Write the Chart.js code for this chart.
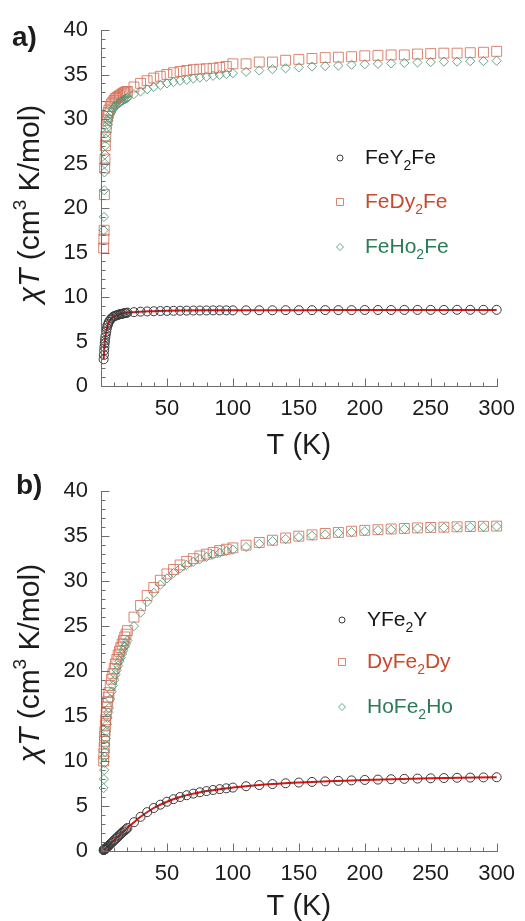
<!DOCTYPE html>
<html>
<head>
<meta charset="utf-8">
<script src="https://cdn.jsdelivr.net/npm/chart.js@4.4.1/dist/chart.umd.min.js"></script>
<style>
  html, body { margin: 0; padding: 0; background: #fff; }
  #wrap { position: relative; width: 525px; height: 921px; overflow: hidden; }
  canvas { position: absolute; left: 0; }
  #chartA { top: 0; }
  #chartB { top: 465px; }
</style>
</head>
<body>
<div id="wrap">
  <canvas id="chartA" width="525" height="465"></canvas>
  <canvas id="chartB" width="525" height="456"></canvas>
</div>
<script>
// Temperatures (K) of the measured points
const temps = [2.0, 2.2, 2.4, 2.6, 2.8, 3.0, 3.3, 3.6, 4.0, 4.5, 5.0, 5.5, 6.0, 7, 8, 9, 10, 11, 12, 13, 14, 15, 16, 17, 18, 19, 20,
  25, 30, 35, 40, 45, 50, 55, 60, 65, 70, 75, 80, 85, 90, 95, 100,
  110, 120, 130, 140, 150, 160, 170, 180, 190, 200, 210, 220, 230, 240, 250, 260, 270, 280, 290, 300];

// Temperatures of the fitted curves
const fitTemps = [2, 2.5, 3, 3.5, 4, 5, 6, 7, 8, 10, 12, 15, 20, 25, 30, 40, 50, 60, 80, 100, 120, 150, 200, 250, 300];

// a) chi*T of the FeLn2Fe complexes
const feY2Fe = [3.0, 3.5, 4.0, 4.4, 4.8, 5.1, 5.5, 5.8, 6.1, 6.5, 6.8, 7.0, 7.2, 7.45, 7.6, 7.75, 7.85, 7.9, 7.95, 8.0, 8.05, 8.1, 8.1, 8.15, 8.2, 8.2, 8.25,
  8.3, 8.35, 8.38, 8.4, 8.42, 8.44, 8.45, 8.46, 8.47, 8.48, 8.48, 8.49, 8.5, 8.5, 8.5, 8.5,
  8.5, 8.51, 8.51, 8.52, 8.52, 8.52, 8.53, 8.53, 8.53, 8.54, 8.54, 8.54, 8.55, 8.55, 8.55, 8.55, 8.56, 8.56, 8.56, 8.56];
const feDy2Fe = [15.5, 16.5, 17.5, 21.5, 24.5, 25.5, 27.0, 28.0, 29.0, 29.8, 30.3, 30.7, 31.0, 31.4, 31.7, 31.9, 32.1, 32.3, 32.4, 32.5, 32.6, 32.7, 32.8, 32.9, 33.0, 33.05, 33.1,
  33.6, 34.0, 34.3, 34.6, 34.8, 35.0, 35.2, 35.35, 35.45, 35.55, 35.6, 35.65, 35.7, 35.8, 35.9, 36.2,
  36.2, 36.4, 36.4, 36.6, 36.7, 36.8, 36.9, 36.95, 37.0, 37.1, 37.15, 37.2, 37.2, 37.3, 37.35, 37.4, 37.4, 37.45, 37.5, 37.6];
const feHo2Fe = [17.5, 19.0, 22.0, 24.0, 25.0, 26.0, 27.0, 27.8, 28.4, 29.0, 29.4, 29.8, 30.1, 30.5, 30.8, 31.1, 31.3, 31.5, 31.6, 31.75, 31.85, 31.95, 32.05, 32.15, 32.2, 32.3, 32.35,
  32.8, 33.1, 33.35, 33.6, 33.8, 34.0, 34.15, 34.3, 34.4, 34.55, 34.65, 34.75, 34.85, 34.95, 35.05, 35.15,
  35.3, 35.45, 35.6, 35.7, 35.8, 35.9, 35.95, 36.0, 36.1, 36.15, 36.2, 36.25, 36.3, 36.35, 36.4, 36.45, 36.45, 36.5, 36.5, 36.55];
const fitFeY2Fe = [3.0, 4.2, 5.1, 5.7, 6.1, 6.8, 7.2, 7.45, 7.6, 7.85, 7.95, 8.1, 8.25, 8.3, 8.35, 8.4, 8.45, 8.48, 8.5, 8.5, 8.52, 8.52, 8.53, 8.54, 8.55];

// b) chi*T of the LnFe2Ln complexes
const yFe2Y = [0.10, 0.12, 0.14, 0.17, 0.19, 0.22, 0.26, 0.30, 0.35, 0.42, 0.49, 0.56, 0.63, 0.77, 0.91, 1.05, 1.19, 1.33, 1.47, 1.61, 1.75, 1.89, 2.03, 2.16, 2.30, 2.43, 2.56,
  3.20, 3.80, 4.32, 4.78, 5.15, 5.48, 5.76, 6.00, 6.20, 6.38, 6.53, 6.66, 6.78, 6.88, 6.97, 7.05,
  7.20, 7.33, 7.44, 7.53, 7.61, 7.68, 7.74, 7.80, 7.85, 7.90, 7.94, 7.98, 8.02, 8.05, 8.08, 8.11, 8.14, 8.16, 8.18, 8.20];
const dyFe2Dy = [10.0, 10.8, 11.5, 12.2, 12.8, 13.3, 14.0, 14.6, 15.3, 16.0, 16.6, 17.1, 17.6, 18.4, 19.1, 19.7, 20.3, 20.8, 21.3, 21.8, 22.2, 22.6, 23.0, 23.4, 23.8, 24.1, 24.5,
  26.0, 27.3, 28.4, 29.3, 30.1, 30.8, 31.3, 31.8, 32.2, 32.5, 32.8, 33.0, 33.2, 33.4, 33.55, 33.7,
  34.0, 34.3, 34.55, 34.8, 35.0, 35.15, 35.3, 35.42, 35.55, 35.65, 35.72, 35.8, 35.86, 35.92, 35.97, 36.0, 36.04, 36.07, 36.1, 36.12];
const hoFe2Ho = [7.0, 8.0, 9.0, 9.8, 10.5, 11.0, 11.8, 12.5, 13.3, 14.1, 14.8, 15.4, 15.9, 16.9, 17.7, 18.4, 19.0, 19.6, 20.1, 20.6, 21.1, 21.5, 21.9, 22.3, 22.7, 23.0, 23.4,
  25.0, 26.5, 27.7, 28.7, 29.6, 30.3, 30.9, 31.4, 31.8, 32.15, 32.45, 32.7, 32.95, 33.15, 33.35, 33.5,
  33.8, 34.15, 34.45, 34.7, 34.9, 35.05, 35.2, 35.35, 35.45, 35.55, 35.65, 35.72, 35.8, 35.86, 35.91, 35.95, 35.99, 36.02, 36.05, 36.08];
const fitYFe2Y = [0.10, 0.16, 0.22, 0.29, 0.35, 0.49, 0.63, 0.77, 0.91, 1.19, 1.47, 1.89, 2.56, 3.20, 3.80, 4.78, 5.48, 6.00, 6.66, 7.05, 7.33, 7.61, 7.90, 8.08, 8.20];

// Series names (legend order) and axis ticks
const namesA = ['FeY2Fe', 'FeDy2Fe', 'FeHo2Fe'];
const namesB = ['YFe2Y', 'DyFe2Dy', 'HoFe2Ho'];
const xMajor = [0, 50, 100, 150, 200, 250, 300];
const yMajor = [0, 5, 10, 15, 20, 25, 30, 35, 40];

const FAM = '"Liberation Sans", Arial, Helvetica, sans-serif';
const INK = '#1c1c1c';
const STYLE = {
  circle: { pointStyle: 'circle', radius: 4.5, color: '#3a3a3a', text: '#161616' },
  square: { pointStyle: 'rect', radius: 7, color: 'rgba(214,112,88,0.85)', text: '#c8492d' },
  diamond: { pointStyle: 'rectRot', radius: 4.6, color: 'rgba(78,150,118,0.85)', text: '#2c7a58' }
};

const pts = (xs, ys) => xs.map((x, i) => ({ x, y: ys[i] }));

function markerSet(label, ys, kind) {
  const s = STYLE[kind];
  return {
    label, data: pts(temps, ys), showLine: false, clip: false,
    pointStyle: s.pointStyle, pointRadius: s.radius, pointBorderWidth: 1,
    pointBorderColor: s.color, pointBackgroundColor: 'rgba(0,0,0,0)',
    legendKind: kind
  };
}
function fitSet(ys) {
  return {
    label: 'fit', data: pts(fitTemps, ys), showLine: true, clip: false,
    borderColor: '#e21212', borderWidth: 2, pointRadius: 0,
    cubicInterpolationMode: 'monotone'
  };
}

// Inward ticks, y-axis title with italics/superscript, panel tag and legend
const panelDecor = {
  id: 'panelDecor',
  afterDraw(chart, args, o) {
    const { ctx, chartArea: ca, scales: { x, y } } = chart;
    ctx.save();
    ctx.strokeStyle = '#6e6e6e';
    ctx.lineWidth = 1;
    ctx.beginPath();
    const lx = Math.round(ca.left) + 0.5, by = Math.round(ca.bottom) + 0.5;
    ctx.moveTo(lx, Math.round(ca.top));
    ctx.lineTo(lx, by);
    ctx.lineTo(Math.round(ca.right) + 1, by);
    for (let v = 0; v <= 40; v += 1) {
      const py = Math.round(y.getPixelForValue(v)) + 0.5;
      ctx.moveTo(lx, py); ctx.lineTo(lx + (v % 5 === 0 ? 8 : 4), py);
    }
    for (let v = 0; v <= 300; v += 10) {
      const px = Math.round(x.getPixelForValue(v)) + 0.5;
      ctx.moveTo(px, by); ctx.lineTo(px, by - (v % 50 === 0 ? 8 : 4));
    }
    ctx.stroke();

    // y-axis title
    ctx.fillStyle = INK;
    ctx.textBaseline = 'middle';
    ctx.textAlign = 'left';
    const parts = [
      { t: '\u03C7T', f: 'italic 30px ' + FAM, dy: 0 },
      { t: ' (cm', f: '30px ' + FAM, dy: 0 },
      { t: '3', f: '19px ' + FAM, dy: -10 },
      { t: ' K/mol)', f: '30px ' + FAM, dy: 0 }
    ];
    let w = 0;
    parts.forEach(p => { ctx.font = p.f; p.w = ctx.measureText(p.t).width; w += p.w; });
    ctx.save();
    ctx.translate(o.titleX, (ca.top + ca.bottom) / 2 + o.titleShift);
    ctx.rotate(-Math.PI / 2);
    let px = -w / 2;
    parts.forEach(p => { ctx.font = p.f; ctx.fillText(p.t, px, p.dy); px += p.w; });
    ctx.restore();

    // panel tag
    ctx.font = 'bold 28px ' + FAM;
    ctx.fillText(o.tag, o.tagX, o.tagY);

    // legend, in the order given by o.order
    o.order.forEach((name, i) => {
      const d = chart.data.datasets.find(ds => ds.label === name);
      const s = STYLE[d.legendKind];
      const cy = o.legendY[i];
      const mx = o.legendX;
      ctx.strokeStyle = s.color;
      ctx.lineWidth = 1;
      ctx.beginPath();
      if (d.legendKind === 'circle') {
        ctx.arc(mx, cy, 3, 0, Math.PI * 2);
      } else if (d.legendKind === 'square') {
        ctx.rect(mx - 3.5, cy - 3.5, 7, 7);
      } else {
        ctx.moveTo(mx - 3.5, cy); ctx.lineTo(mx, cy - 3.5); ctx.lineTo(mx + 3.5, cy); ctx.lineTo(mx, cy + 3.5); ctx.closePath();
      }
      ctx.stroke();
      ctx.fillStyle = s.text;
      ctx.textBaseline = 'middle';
      let tx = o.legendX + 25;
      for (const ch of d.label.match(/\d+|\D+/g)) {
        const sub = /\d/.test(ch);
        ctx.font = (sub ? '14px ' : '21px ') + FAM;
        ctx.fillText(ch, tx, cy + (sub ? 8 : 0));
        tx += ctx.measureText(ch).width;
      }
    });
    ctx.restore();
  }
};

function makeChart(id, datasets, cfg) {
  return new Chart(document.getElementById(id), {
    type: 'scatter',
    data: { datasets },
    options: {
      responsive: false,
      animation: false,
      devicePixelRatio: 1,
      events: [],
      layout: { padding: { left: 0, right: 28, top: cfg.top, bottom: 0 } },
      plugins: {
        legend: { display: false },
        tooltip: { enabled: false },
        panelDecor: cfg.decor
      },
      scales: {
        x: {
          type: 'linear', min: 0, max: 300,
          grid: { display: false, drawTicks: false },
          border: { display: false },
          afterBuildTicks: s => { s.ticks = xMajor.map(v => ({ value: v })); },
          afterFit: s => { s.height = cfg.xHeight; },
          ticks: {
            padding: 10, color: INK, maxRotation: 0, autoSkip: false,
            font: { family: FAM, size: 22 },
            callback: v => (v === 0 ? '' : String(v))
          },
          title: {
            display: true, text: 'T (K)', color: INK,
            font: { family: FAM, size: 29, lineHeight: 1 },
            padding: { top: 0, bottom: cfg.titlePad }
          }
        },
        y: {
          type: 'linear', min: 0, max: 40,
          grid: { display: false, drawTicks: false },
          border: { display: false },
          afterBuildTicks: s => { s.ticks = yMajor.map(v => ({ value: v })); },
          afterFit: s => { s.width = 101; },
          ticks: { padding: 13, color: INK, font: { family: FAM, size: 22 } }
        }
      }
    },
    plugins: [panelDecor]
  });
}

makeChart('chartA', [
  markerSet(namesA[0], feY2Fe, 'circle'),
  markerSet(namesA[2], feHo2Fe, 'diamond'),
  markerSet(namesA[1], feDy2Fe, 'square'),
  fitSet(fitFeY2Fe)
], {
  top: 30, xHeight: 79, titlePad: 5,
  decor: { order: namesA, tag: 'a)', tagX: 12, tagY: 38, titleX: 31, titleShift: -4, legendX: 340, legendY: [158, 202, 247] }
});

makeChart('chartB', [
  markerSet(namesB[0], yFe2Y, 'circle'),
  markerSet(namesB[2], hoFe2Ho, 'diamond'),
  markerSet(namesB[1], dyFe2Dy, 'square'),
  fitSet(fitYFe2Y)
], {
  top: 17, xHeight: 70, titlePad: 0,
  decor: { order: namesB, tag: 'b)', tagX: 16, tagY: 21, titleX: 31, titleShift: -8, legendX: 342, legendY: [155, 197, 242] }
});
</script>
</body>
</html>
